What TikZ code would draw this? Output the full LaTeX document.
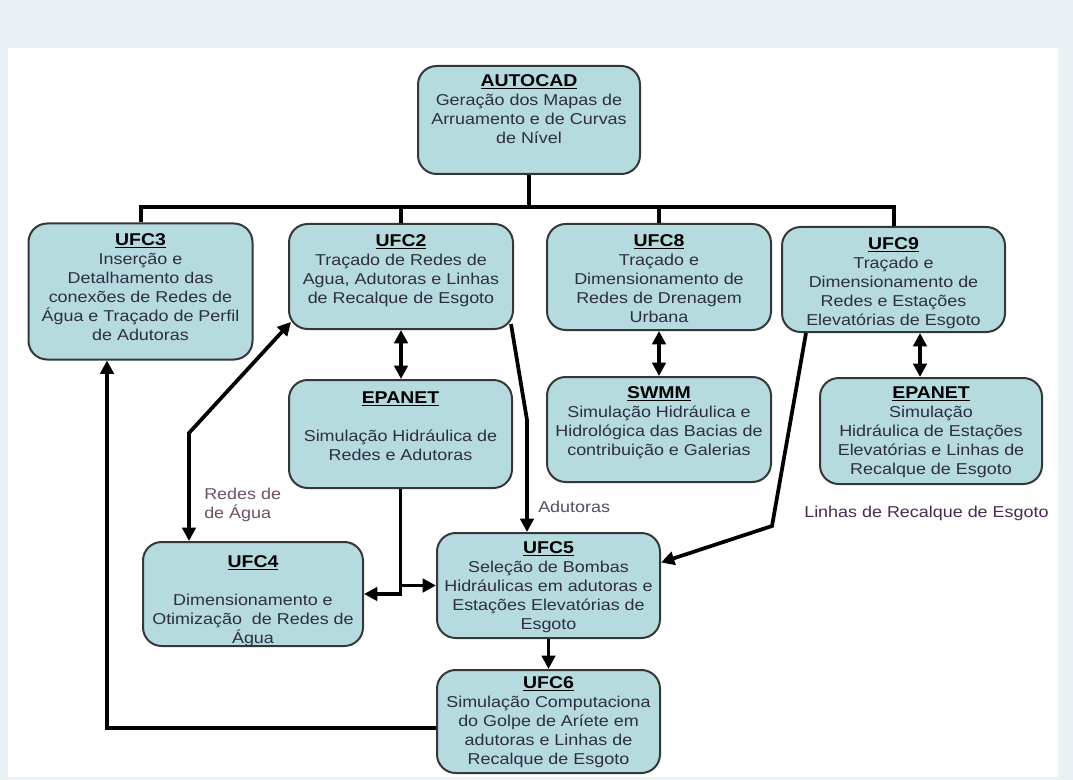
\documentclass[tikz,border=0pt]{standalone}
\usepackage{fontspec}
\setmainfont{Liberation Sans}[FakeStretch=1.14]
\usetikzlibrary{arrows.meta,calc}
\definecolor{bgc}{HTML}{EAF2F5}
\definecolor{boxfill}{HTML}{B5DBDF}
\definecolor{boxline}{HTML}{353838}
\definecolor{txtc}{HTML}{2E2E40}
\definecolor{redesc}{HTML}{6E5068}
\definecolor{adutc}{HTML}{505060}
\definecolor{linhasc}{HTML}{4A2A50}
\newcommand\ttl[1]{{\fontsize{12.8pt}{14.25pt}\selectfont\textcolor{black}{\underline{\textbf{#1}}}}}
\begin{document}
\begin{tikzpicture}[x=0.75pt,y=-0.75pt,
  box/.style={draw=boxline, line width=1.5pt, fill=boxfill, rounded corners=14pt, inner sep=0pt},
  txt/.style={anchor=north, align=center, inner sep=0pt, text=txtc, font=\fontsize{11.8pt}{14.25pt}\selectfont},
  lbl/.style={anchor=west, align=left, inner sep=0pt, font=\fontsize{11.8pt}{14.25pt}\selectfont},
  conn/.style={line width=2.8pt, draw=black},
  busline/.style={line width=3pt, draw=black},
  arr/.style={conn, -{Triangle[length=10pt,width=10pt]}},
  darr/.style={conn, {Triangle[length=10pt,width=10pt]}-{Triangle[length=10pt,width=10pt]}},
]
\useasboundingbox (0,0) rectangle (1073,780);
\fill[bgc] (0,0) rectangle (1073,780);
\fill[white] (8,48) rectangle (1058,777);

% boxes
\node[box, minimum width=166.5pt, minimum height=81pt] (autocad) at (529,120) {};
\node[box, minimum width=168pt, minimum height=102pt] (ufc3) at (140.5,291.5) {};
\node[box, minimum width=168pt, minimum height=78.75pt] (ufc2) at (401,276.5) {};
\node[box, minimum width=168pt, minimum height=79.5pt] (ufc8) at (659,277) {};
\node[box, minimum width=167.25pt, minimum height=78.75pt] (ufc9) at (893.5,279.5) {};
\node[box, minimum width=167.25pt, minimum height=81pt] (epanet1) at (400.5,434) {};
\node[box, minimum width=168pt, minimum height=78.75pt] (swmm) at (659,429.5) {};
\node[box, minimum width=166.5pt, minimum height=79.5pt] (epanet2) at (931,431) {};
\node[box, minimum width=165pt, minimum height=78pt] (ufc4) at (253,594) {};
\node[box, minimum width=167.25pt, minimum height=78.75pt] (ufc5) at (548.5,585.5) {};
\node[box, minimum width=167.25pt, minimum height=77.25pt] (ufc6) at (548.5,721.5) {};

% texts
\node[txt] (autocadt) at ($(autocad.north)+(0,9)$) {\ttl{AUTOCAD}\\Geração dos Mapas de\\Arruamento e de Curvas\\de Nível};
\node[txt] (ufc3t) at ($(ufc3.north)+(0,11)$) {\ttl{UFC3}\\Inserção e\\Detalhamento das\\conexões de Redes de\\Água e Traçado de Perfil\\de Adutoras};
\node[txt] (ufc2t) at ($(ufc2.north)+(0,11)$) {\ttl{UFC2}\\Traçado de Redes de\\Agua, Adutoras e Linhas\\de Recalque de Esgoto};
\node[txt] (ufc8t) at ($(ufc8.north)+(0,11)$) {\ttl{UFC8}\\Traçado e\\Dimensionamento de\\Redes de Drenagem\\Urbana};
\node[txt] (ufc9t) at ($(ufc9.north)+(0,11)$) {\ttl{UFC9}\\Traçado e\\Dimensionamento de\\Redes e Estações\\Elevatórias de Esgoto};
\node[txt] (epanet1t) at ($(epanet1.north)+(0,12)$) {\ttl{EPANET}\\[14.25pt]Simulação Hidráulica de\\Redes e Adutoras};
\node[txt] (swmmt) at ($(swmm.north)+(0,10)$) {\ttl{SWMM}\\Simulação Hidráulica e\\Hidrológica das Bacias de\\contribuição e Galerias};
\node[txt] (epanet2t) at ($(epanet2.north)+(0,9)$) {\ttl{EPANET}\\Simulação\\Hidráulica de Estações\\Elevatórias e Linhas de\\Recalque de Esgoto};
\node[txt] (ufc4t) at ($(ufc4.north)+(0,14)$) {\ttl{UFC4}\\[14.25pt]Dimensionamento e\\Otimização\ \ de Redes de\\Água};
\node[txt] (ufc5t) at ($(ufc5.north)+(0,9)$) {\ttl{UFC5}\\Seleção de Bombas\\Hidráulicas em adutoras e\\Estações Elevatórias de\\Esgoto};
\node[txt] (ufc6t) at ($(ufc6.north)+(0,7)$) {\ttl{UFC6}\\Simulação Computaciona\\do Golpe de Aríete em\\adutoras e Linhas de\\Recalque de Esgoto};

% labels
\node[lbl, text=redesc] (redes) at (204,505) {Redes de\\de Água};
\node[lbl, text=adutc] (adut) at (538,507) {Adutoras};
\node[lbl, text=linhasc] (linhas) at (804,513) {Linhas de Recalque de Esgoto};

% bus
\coordinate (bus) at (0,207);
\draw[busline] (autocad.south) -- (autocad.south |- bus);
\draw[busline] (ufc3.north) -- (ufc3.north |- bus) -- (ufc9.north |- bus) -- (ufc9.north);
\draw[busline] (ufc2.north) -- (ufc2.north |- bus);
\draw[busline] (ufc8.north) -- (ufc8.north |- bus);

% double arrows
\draw[darr] (ufc2.south) -- (ufc2.south |- epanet1.north);
\draw[darr] (ufc8.south) -- (ufc8.south |- swmm.north);
\coordinate (c9) at (920,0);
\draw[darr] (ufc9.south -| c9) -- (epanet2.north -| c9);

% Redes de Agua
\coordinate (rb) at (189,433);
\draw[darr] ($(ufc2.south west)+(3,-8)$) -- (rb) -- (rb |- ufc4.north);

% Adutoras
\coordinate (ad) at (527,420);
\draw[arr] ($(ufc2.south east)+(-3,-6)$) -- (ad) -- (ad |- ufc5.north);

% UFC9 -> UFC5
\coordinate (k9) at (772,526);
\draw[arr] ($(ufc9.south west)+(25,0)$) -- (k9) -- ($(ufc5.east)+(0,-23)$);

% EPANET -> UFC4 / UFC5
\draw[arr] (epanet1.south) -- (epanet1.south |- ufc4.east) -- (ufc4.east);
\draw[arr] (epanet1.south |- ufc5.west) -- (ufc5.west);

% UFC5 -> UFC6
\draw[arr] (ufc5.south) -- (ufc6.north);

% UFC6 -> UFC3
\coordinate (lb) at (107,728);
\draw[arr] (ufc6.west |- lb) -- (lb) -- (lb |- ufc3.south);
\end{tikzpicture}
\end{document}
